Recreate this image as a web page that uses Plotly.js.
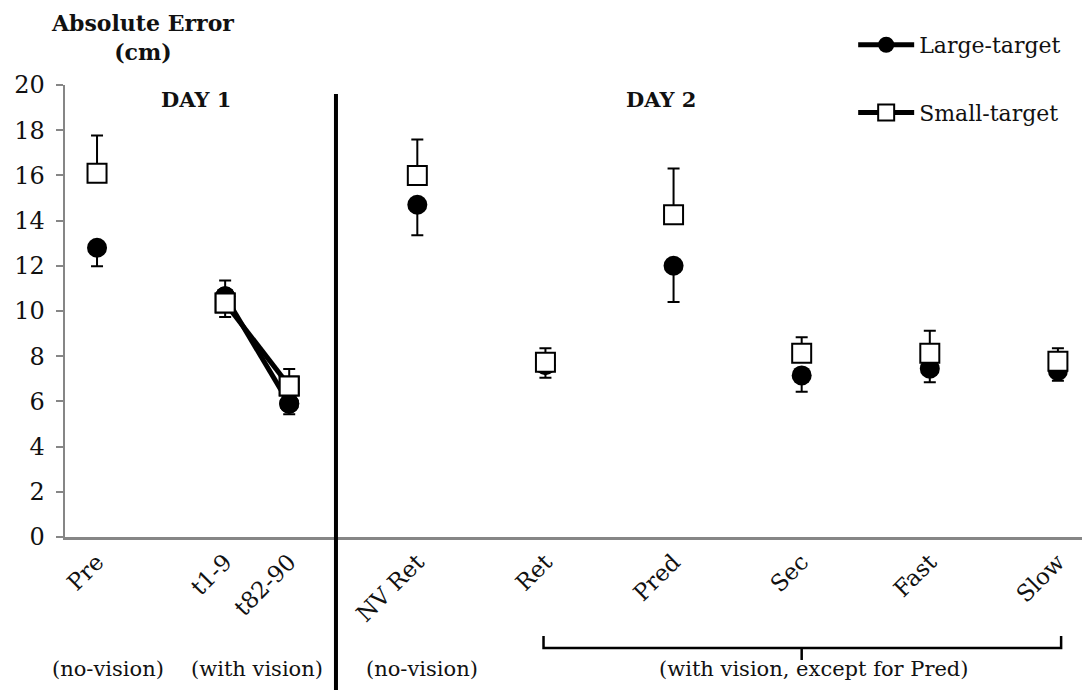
<!DOCTYPE html>
<html>
<head>
<meta charset="utf-8">
<script src="https://cdn.plot.ly/plotly-3.0.1.min.js"></script>
<style>html,body{margin:0;padding:0;background:#fff;}#chart{width:1082px;height:690px;}</style>
</head>
<body>
<div id="chart"></div>
<script>
// ---- data ----
const categories = ['Pre', 't1-9', 't82-90', 'NV Ret', 'Ret', 'Pred', 'Sec', 'Fast', 'Slow'];
const largeMean = [12.8, 10.65, 5.9, 14.7, 7.6, 12.0, 7.15, 7.45, 7.35];
const largeErr  = [0.82, 0.92, 0.47, 1.35, 0.55, 1.6, 0.72, 0.6, 0.44];
const smallMean = [16.09, 10.35, 6.68, 16.0, 7.73, 14.26, 8.13, 8.13, 7.78];
const smallErr  = [1.68, 1.0, 0.75, 1.59, 0.62, 2.04, 0.71, 1.0, 0.57];
const seriesNames = ['Large-target', 'Small-target'];
const dayLabels = ['DAY 1', 'DAY 2'];
const conditionLabels = ['(no-vision)', '(with vision)', '(no-vision)', '(with vision, except for Pred)'];
const connected = ['t1-9', 't82-90'];
const yTitle = ['Absolute Error', '(cm)'];

// ---- layout helpers (positions of category slots on the axis) ----
const slots = [0, 2, 3, 5, 7, 9, 11, 13, 15];
const FONT = 'DejaVu Serif, serif';
const zeros = categories.map(() => 0);
const idx = connected.map(c => categories.indexOf(c));
const lineX = idx.map(i => slots[i]);

const circleMarker = {symbol: 'circle', size: 20, color: '#000', line: {width: 0}};
const squareMarker = {symbol: 'square', size: 19, color: '#fff', line: {color: '#000', width: 2}};

const traces = [
  {x: lineX, y: idx.map(i => largeMean[i]), mode: 'lines+markers', name: seriesNames[0],
   legendgroup: 'a', line: {color: '#000', width: 5}, marker: circleMarker, hoverinfo: 'skip'},
  {x: slots, y: largeMean, mode: 'markers', name: seriesNames[0], showlegend: false,
   legendgroup: 'a', marker: circleMarker,
   error_y: {type: 'data', symmetric: false, array: zeros, arrayminus: largeErr,
             color: '#000', thickness: 2, width: 6}},
  {x: lineX, y: idx.map(i => smallMean[i]), mode: 'lines+markers', name: seriesNames[1],
   legendgroup: 'b', line: {color: '#000', width: 5}, marker: squareMarker, hoverinfo: 'skip'},
  {x: slots, y: smallMean, mode: 'markers', name: seriesNames[1], showlegend: false,
   legendgroup: 'b', marker: squareMarker,
   error_y: {type: 'data', symmetric: false, array: smallErr, arrayminus: zeros,
             color: '#000', thickness: 2, width: 6}}
];

const X0 = -0.5, X1 = 15.376;
const axisGray = '#868686';
const TXT = '#111';

function note(text, x, y, size, bold) {
  return {text: bold ? '<b>' + text + '</b>' : text, xref: 'x', yref: 'paper', x: x, y: y,
          xanchor: 'center', yanchor: 'middle', showarrow: false,
          font: {family: FONT, size: size, color: TXT}};
}

const layout = {
  width: 1082, height: 690,
  margin: {l: 65, r: 0, t: 85, b: 153},
  paper_bgcolor: '#fff', plot_bgcolor: '#fff',
  font: {family: FONT, color: TXT, size: 20},
  showlegend: true,
  legend: {x: 0.775, xanchor: 'left', y: 1.135, yanchor: 'top', traceorder: 'grouped',
           tracegroupgap: 36, itemwidth: 56, bgcolor: 'rgba(0,0,0,0)',
           font: {family: FONT, size: 22, color: TXT}},
  xaxis: {range: [X0, X1], tickmode: 'array', tickvals: slots, ticktext: categories,
          tickangle: -45, ticks: '', showgrid: false, zeroline: false,
          showline: true, linecolor: axisGray, linewidth: 2.5,
          tickfont: {family: FONT, size: 23, color: TXT}, fixedrange: true},
  xaxis2: {range: [X0, X1], overlaying: 'x', anchor: 'y', side: 'bottom',
           tickmode: 'linear', tick0: -0.5, dtick: 1, ticks: 'outside', ticklen: 7,
           tickwidth: 2, tickcolor: axisGray, showticklabels: false, showgrid: false,
           zeroline: false, showline: false, fixedrange: true},
  yaxis: {range: [0, 20], tickmode: 'linear', tick0: 0, dtick: 2, ticks: 'outside',
          ticklen: 7, tickwidth: 2, tickcolor: axisGray, showline: true, linecolor: axisGray,
          linewidth: 2.5, showgrid: false, zeroline: false, ticklabelstandoff: 6,
          tickfont: {family: FONT, size: 24, color: TXT}, fixedrange: true},
  shapes: [
    {type: 'line', xref: 'x', yref: 'paper', x0: 3.73, x1: 3.73, y0: 0.98, y1: -0.36,
     line: {color: '#000', width: 4}},
    {type: 'path', xref: 'x', yref: 'paper',
     path: 'M 6.97,-0.219 L 6.97,-0.2456 L 15.05,-0.2456 L 15.05,-0.219 M 11,-0.2456 L 11,-0.272',
     line: {color: '#000', width: 2.5}}
  ],
  annotations: [
    {text: '<b>' + yTitle[0] + '</b><br><b>' + yTitle[1] + '</b>', xref: 'paper', yref: 'paper',
     x: 77 / 1017, y: (537 - 38) / 452, xanchor: 'center', yanchor: 'middle', align: 'center',
     showarrow: false, font: {family: FONT, size: 22, color: TXT}},
    note(dayLabels[0], 1.55, (537 - 99) / 452, 21, true),
    note(dayLabels[1], 8.81, (537 - 99) / 452, 21, true),
    note(conditionLabels[0], 0.17, (537 - 669) / 452, 21, false),
    note(conditionLabels[1], 2.5, (537 - 669) / 452, 21, false),
    note(conditionLabels[2], 5.07, (537 - 669) / 452, 21, false),
    note(conditionLabels[3], 11.2, (537 - 669) / 452, 21, false)
  ]
};

Plotly.newPlot('chart', traces, layout, {displayModeBar: false, staticPlot: true});
</script>
</body>
</html>
